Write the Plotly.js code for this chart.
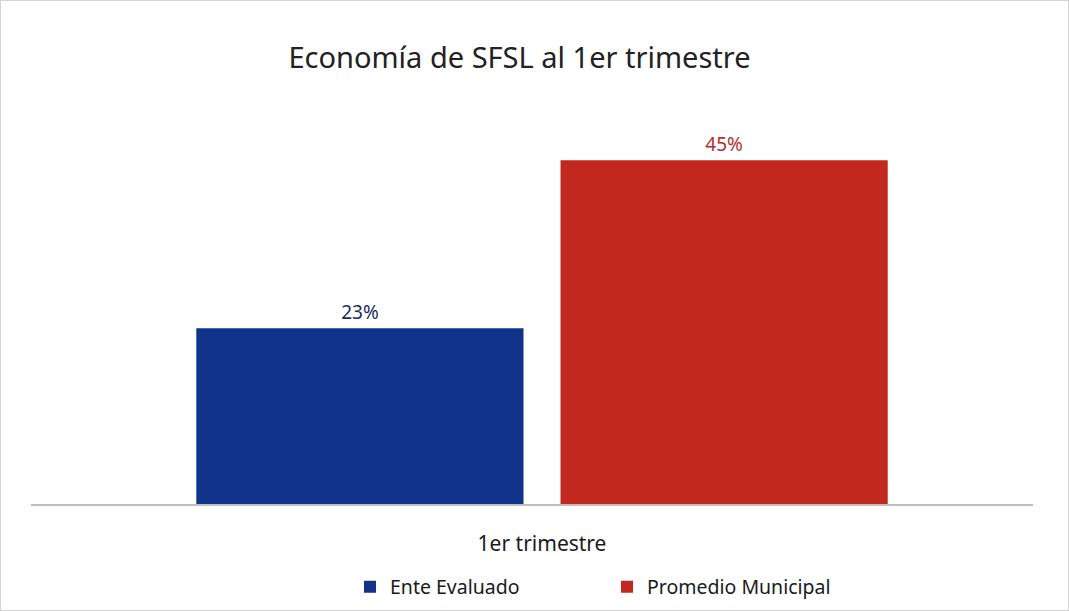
<!DOCTYPE html>
<html><head><meta charset="utf-8">
<script src="https://cdn.plot.ly/plotly-3.0.1.min.js"></script>
<style>
html,body{margin:0;padding:0;background:#fff;}
#wrap{position:relative;width:1069px;height:611px;}
#border{position:absolute;left:0;top:0;width:1067px;height:609px;border:1px solid #d4d4d4;pointer-events:none;}
</style></head>
<body>
<div id="wrap"><div id="chart"></div><div id="border"></div></div>
<script>
const categories = ["1er trimestre"];
const enteEvaluado = [23];
const promedioMunicipal = [45];
const labelsEnte = ["23%"];
const labelsPromedio = ["45%"];
const seriesNames = ["Ente Evaluado", "Promedio Municipal"];

const FONT = "Noto Sans, DejaVu Sans, sans-serif";
const traces = [
  {type:"bar", name:seriesNames[0], x:categories, y:enteEvaluado, text:labelsEnte,
   textposition:"outside", cliponaxis:false,
   textfont:{family:FONT, size:19, color:"#1c2c58"},
   marker:{color:"#12338a"}},
  {type:"bar", name:seriesNames[1], x:categories, y:promedioMunicipal, text:labelsPromedio,
   textposition:"outside", cliponaxis:false,
   textfont:{family:FONT, size:19, color:"#b3302b"},
   marker:{color:"#c2281e"}}
];
const layout = {
  width:1069, height:611,
  paper_bgcolor:"#ffffff", plot_bgcolor:"#ffffff",
  margin:{l:31, r:36, t:122, b:107, autoexpand:false},
  font:{family:FONT, color:"#1a1a1a"},
  title:{text:"Economía de SFSL al 1er trimestre", font:{family:FONT, size:29, color:"#222222"},
         xref:"container", yref:"container", x:519.5/1069, xanchor:"center", y:1-58/611, yanchor:"middle"},
  barmode:"group", bargap:0.273, bargroupgap:0.1016,
  xaxis:{type:"category", range:[-0.51,0.49], showline:true, linecolor:"#bdbdbd", linewidth:1.5,
         ticks:"outside", ticklen:20, tickcolor:"rgba(0,0,0,0)",
         tickfont:{family:FONT, size:21, color:"#1a1a1a"}, showgrid:false, zeroline:false,
         automargin:false},
  yaxis:{range:[0,50], visible:false, showgrid:false, zeroline:false},
  showlegend:true,
  legend:{orientation:"h", xref:"paper", x:(350-31)/1002, xanchor:"left", y:(504-587)/382, yanchor:"middle",
          font:{family:FONT, size:19.5, color:"#1a1a1a"}, itemwidth:30, traceorder:"normal",
          entrywidth:212, entrywidthmode:"pixels", itemclick:false},
};
Plotly.newPlot("chart", traces, layout, {staticPlot:true, displayModeBar:false});
</script>
</body></html>
